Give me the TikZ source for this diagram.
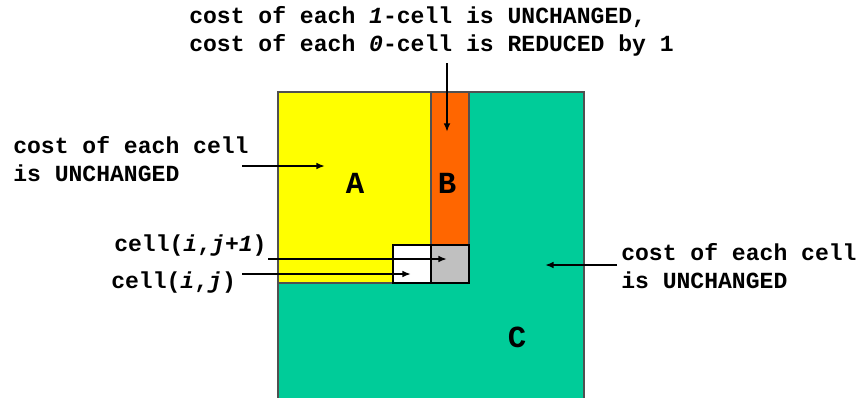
\documentclass[tikz,border=0pt]{standalone}
\usepackage{fontspec}
\setmonofont{Liberation Mono}
\usepackage{tikz}
\usetikzlibrary{arrows.meta}
\definecolor{RegYellow}{HTML}{FFFF00}
\definecolor{RegOrange}{HTML}{FF6600}
\definecolor{RegGreen}{HTML}{00CC99}
\definecolor{RegGrey}{HTML}{C0C0C0}
\definecolor{RegEdge}{HTML}{505050}

\begin{document}
\begin{tikzpicture}[
        x=0.75pt,y=-0.75pt,
        txt/.style={font=\fontsize{17.3}{20.5}\selectfont\ttfamily\bfseries,align=left,inner sep=0pt,anchor=west},
        lbl/.style={font=\fontsize{23}{23}\selectfont\ttfamily\bfseries,inner sep=0pt},
        region/.style={draw=RegEdge,line width=0.8pt},
        cellbox/.style={draw=black,line width=1.8pt},
        arr/.style={-{Latex[length=2.3mm,width=1.8mm]},line width=1.5pt,black}
      ]
        \useasboundingbox (0,0) rectangle (859,397);
        % regions
        \draw[region,fill=RegGreen] (278,400) -- (278,92) -- (584,92) -- (584,400);
        \draw[region,fill=RegYellow] (278,92) rectangle (431,283);
        \draw[region,fill=RegOrange] (431,92) rectangle (469,245);
        \draw[cellbox,fill=white] (393,245) rectangle (431,283);
        \draw[cellbox,fill=RegGrey] (431,245) rectangle (469,283);
        \node[lbl] (la) at (355,183) {A};
        \node[lbl] (lb) at (447,183) {B};
        \node[lbl] (lc) at (517,337) {C};
        % texts
        \node[txt] (top) at (189,31.5) {cost of each \textit{1}-cell is UNCHANGED,\\cost of each \textit{0}-cell is REDUCED by 1};
        \node[txt] (left) at (13,159) {cost of each cell\\is UNCHANGED};
        \node[txt] (right) at (621,266) {cost of each cell\\is UNCHANGED};
        \node[txt] (cij1) at (114,246) {cell(\textit{i},\textit{j+1})};
        \node[txt] (cij) at (111,283) {cell(\textit{i},\textit{j})};
        % arrow ends
        \coordinate (topT) at (447,63);  \coordinate (topH) at (447,132);
        \coordinate (leftT) at (242,166); \coordinate (leftH) at (325,166);
        \coordinate (cij1T) at (268,259); \coordinate (cij1H) at (447,259);
        \coordinate (cijT) at (242,274);  \coordinate (cijH) at (411,274);
        \coordinate (rightT) at (617,265); \coordinate (rightH) at (545,265);
        \draw[arr] (topT)--(topH); \draw[arr] (leftT)--(leftH);
        \draw[arr] (cij1T)--(cij1H); \draw[arr] (cijT)--(cijH);
        \draw[arr] (rightT)--(rightH);
      \end{tikzpicture}
\end{document}
